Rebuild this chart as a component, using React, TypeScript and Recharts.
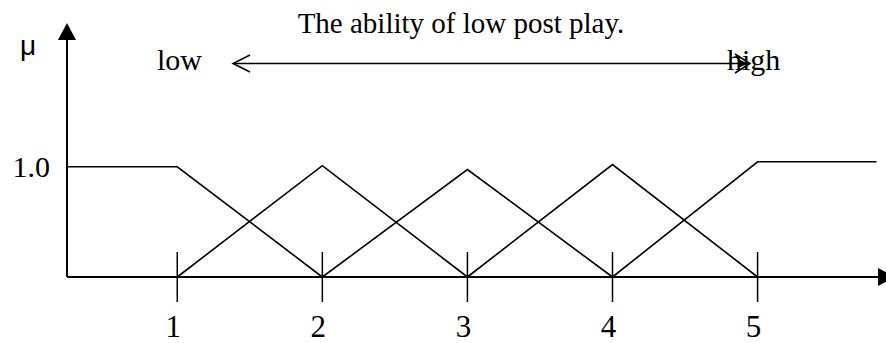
import React from 'react';
import { LineChart, Line, XAxis, YAxis } from 'recharts';

// fuzzy sets for the ability of low post play, graded 1..5
const X_MIN = 0.24;
const X_MAX = 5.83;
const Y_MAX = 2.15;

const grades = [1, 2, 3, 4, 5];
const muTicks = [1];

const lowX = [X_MIN, 1, 2];
const lowMu = [1, 1, 0];
const fairX = [1, 2, 3];
const fairMu = [0, 1.01, 0];
const midX = [2, 3, 4];
const midMu = [0, 0.975, 0];
const goodX = [3, 4, 5];
const goodMu = [0, 1.02, 0];
const highX = [4, 5, 5.82];
const highMu = [0, 1.045, 1.045];

const toPoints = (xs: number[], ys: number[]) => xs.map((x, i) => ({ x, mu: ys[i] }));

const sets = [
  { name: 'low', data: toPoints(lowX, lowMu) },
  { name: 'fair', data: toPoints(fairX, fairMu) },
  { name: 'mid', data: toPoints(midX, midMu) },
  { name: 'good', data: toPoints(goodX, goodMu) },
  { name: 'high', data: toPoints(highX, highMu) },
];

const SERIF = "'Times New Roman', 'Liberation Serif', serif";
const SANS = "Arial, 'Liberation Sans', sans-serif";

function GradeTick({ x, y, payload }: any) {
  return (
    <g>
      <line x1={x} x2={x} y1={y - 25} y2={y + 25} stroke="#000" strokeWidth={1.5} />
      <text x={x - 4} y={y + 60} textAnchor="middle" fontFamily={SERIF} fontSize={31} fill="#000">
        {payload.value}
      </text>
    </g>
  );
}

export default function App() {
  return (
    <div style={{ position: 'absolute', left: 0, top: 0, width: 886, height: 343, background: '#fff' }}>
      <LineChart width={886} height={343} margin={{ top: 40, right: 8, bottom: 0, left: 0 }}>
        <XAxis
          type="number"
          dataKey="x"
          domain={[X_MIN, X_MAX]}
          ticks={grades}
          interval={0}
          height={66}
          tickLine={false}
          tickSize={0}
          tickMargin={0}
          tick={<GradeTick />}
          axisLine={{ stroke: '#000', strokeWidth: 2, markerEnd: 'url(#axisHead)' }}
        />
        <YAxis
          type="number"
          dataKey="mu"
          domain={[0, Y_MAX]}
          ticks={muTicks}
          width={67}
          tickLine={false}
          tickSize={0}
          tickMargin={17}
          tickFormatter={(v: number) => v.toFixed(1)}
          tick={{ fill: '#000', fontSize: 30, fontFamily: SERIF }}
          axisLine={{ stroke: '#000', strokeWidth: 2, markerStart: 'url(#axisHead)' }}
        />
        {sets.map((s) => (
          <Line
            key={s.name}
            data={s.data}
            dataKey="mu"
            type="linear"
            stroke="#000"
            strokeWidth={1.6}
            dot={false}
            activeDot={false}
            isAnimationActive={false}
          />
        ))}
      </LineChart>
      <svg
        width={886}
        height={343}
        style={{ position: 'absolute', left: 0, top: 0, pointerEvents: 'none' }}
      >
        <defs>
          <marker
            id="axisHead"
            viewBox="0 0 17 18"
            refX={0}
            refY={9}
            markerWidth={17}
            markerHeight={18}
            markerUnits="userSpaceOnUse"
            orient="auto-start-reverse"
          >
            <path d="M0,0 L17,9 L0,18 z" fill="#000" />
          </marker>
        </defs>
        <text x={20} y={55} fontFamily={SANS} fontSize={28} fill="#000">μ</text>
        <text x={461} y={33} textAnchor="middle" fontFamily={SERIF} fontSize={29} fill="#000">
          The ability of low post play.
        </text>
        <text x={157} y={70} fontFamily={SERIF} fontSize={30} fill="#000">low</text>
        <text x={727} y={70} fontFamily={SERIF} fontSize={30} fill="#000">high</text>
        <line x1={233} y1={63.5} x2={750} y2={63.5} stroke="#000" strokeWidth={1.5} />
        <polyline points="250,55 233,63.5 250,72" fill="none" stroke="#000" strokeWidth={1.5} />
        <polyline points="735,54 750,63.5 735,73" fill="none" stroke="#000" strokeWidth={1.5} />
        <path d="M738,59 L748,63.5 L738,68 z" fill="#000" />
      </svg>
    </div>
  );
}
